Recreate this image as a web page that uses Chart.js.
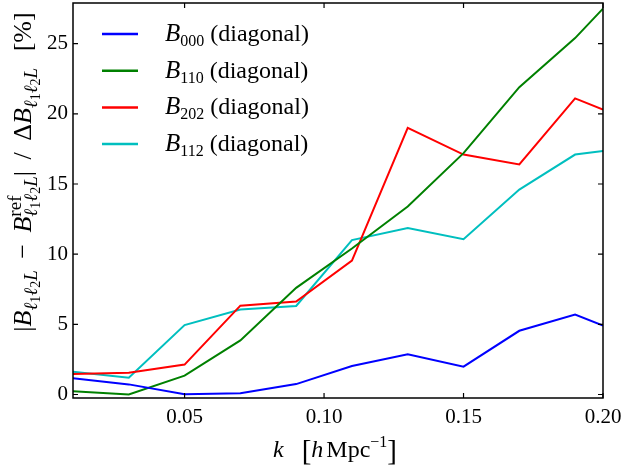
<!DOCTYPE html>
<html>
<head>
<meta charset="utf-8">
<script src="https://cdn.jsdelivr.net/npm/chart.js@4/dist/chart.umd.min.js"></script>
<style>
  html, body { margin: 0; padding: 0; background: #fff; }
  canvas { display: block; }
</style>
</head>
<body>
<canvas id="chart" width="624" height="470"></canvas>
<script>
// k values and the four series
const kValues = [0.01, 0.03, 0.05, 0.07, 0.09, 0.11, 0.13, 0.15, 0.17, 0.19, 0.20];
const b000 = [1.15, 0.72, 0.02, 0.09, 0.74, 2.03, 2.87, 1.98, 4.54, 5.69, 4.92];
const b110 = [0.24, 0.0, 1.34, 3.85, 7.6, 10.4, 13.4, 17.2, 21.9, 25.4, 27.5];
const b202 = [1.46, 1.55, 2.13, 6.33, 6.62, 9.54, 19.0, 17.1, 16.4, 21.1, 20.3];
const b112 = [1.62, 1.19, 4.95, 6.05, 6.31, 11.0, 11.86, 11.07, 14.6, 17.1, 17.36];

const seriesSubs = ['000', '110', '202', '112'];
const seriesColors = ['#0000ff', '#008000', '#ff0000', '#00bfbf'];
const xTicks = [0.05, 0.10, 0.15, 0.20];
const yTicks = [0, 5, 10, 15, 20, 25];

const FONT = '"Liberation Serif", "Times New Roman", serif';

function fontOf(seg) {
  return (seg.it ? 'italic ' : '') + seg.s + 'px ' + FONT;
}

// lay out text pieces with sub/superscripts, returns positions + width
function layoutRich(ctx, segs, gapExtra) {
  let cur = 0, markX = 0, supEnd = 0;
  const out = [];
  segs.forEach(seg => {
    ctx.font = fontOf(seg);
    const w = ctx.measureText(seg.t).width;
    if (seg.mark) markX = cur;
    if (seg.back) cur = markX;
    if (seg.gap) cur += (gapExtra || 0) / 2;
    out.push({ seg, x: cur });
    cur += w;
    if (seg.gap) cur += (gapExtra || 0) / 2;
    if (seg.mark) supEnd = cur;
    if (seg.end) cur = Math.max(cur, supEnd);
  });
  return { items: out, width: cur };
}

function drawRich(ctx, segs, x0, baseY, gapExtra) {
  const lay = layoutRich(ctx, segs, gapExtra);
  ctx.textAlign = 'left';
  ctx.textBaseline = 'alphabetic';
  ctx.fillStyle = '#000';
  lay.items.forEach(it => {
    ctx.font = fontOf(it.seg);
    ctx.fillText(it.seg.t, x0 + it.x, baseY + (it.seg.dy || 0));
  });
  return lay.width;
}

// y title pieces
function yTitleSegs(b) {
  const s1 = Math.round(b * 0.74), s2 = Math.round(b * 0.54);
  const d1 = Math.round(b * 0.22), d2 = Math.round(b * 0.36);
  const sub = (first, last) => {
    const g = [
      { t: 'ℓ', it: true, s: s1, dy: d1 },
      { t: '1', s: s2, dy: d2 },
      { t: 'ℓ', it: true, s: s1, dy: d1 },
      { t: '2', s: s2, dy: d2 },
      { t: 'L', it: true, s: s1, dy: d1 }
    ];
    Object.assign(g[0], first || {});
    Object.assign(g[4], last || {});
    return g;
  };
  return [].concat(
    [{ t: '|', s: b }, { t: 'B', it: true, s: b }],
    sub(),
    [{ t: ' − ', s: b, gap: true }, { t: 'B', it: true, s: b },
     { t: 'ref', s: s1, dy: -Math.round(b * 0.4), mark: true }],
    sub({ back: true }, { end: true }),
    [{ t: '|', s: b }, { t: ' / ', s: b, gap: true }, { t: 'Δ', s: b }, { t: 'B', it: true, s: b }],
    sub(),
    [{ t: ' ', s: b, gap: true }, { t: '[%]', s: b }]
  );
}
const yTitle = yTitleSegs(26);

const xTitle = [
  { t: 'k', it: true, s: 24 },
  { t: '   ', s: 24 },
  { t: '[', s: 29, dy: 3 },
  { t: 'h', it: true, s: 24 },
  { t: ' ', s: 12 },
  { t: 'Mpc', s: 24 },
  { t: '−1', s: 16, dy: -10 },
  { t: ']', s: 29, dy: 3 }
];

const decorations = {
  id: 'decorations',
  afterDatasetsDraw(chart) {
    const { ctx, chartArea: a, scales } = chart;
    ctx.save();
    // frame
    ctx.strokeStyle = '#000';
    ctx.lineWidth = 1.5;
    ctx.strokeRect(a.left, a.top, a.right - a.left, a.bottom - a.top);
    // inward ticks on all four sides
    ctx.lineWidth = 1.2;
    ctx.beginPath();
    xTicks.forEach(v => {
      const px = scales.x.getPixelForValue(v);
      ctx.moveTo(px, a.bottom); ctx.lineTo(px, a.bottom - 5);
      ctx.moveTo(px, a.top); ctx.lineTo(px, a.top + 5);
    });
    yTicks.forEach(v => {
      const py = scales.y.getPixelForValue(v);
      ctx.moveTo(a.left, py); ctx.lineTo(a.left + 5, py);
      ctx.moveTo(a.right, py); ctx.lineTo(a.right - 5, py);
    });
    ctx.stroke();

    // legend
    seriesSubs.forEach((s, i) => {
      const y = 34 + i * 36.7;
      ctx.strokeStyle = seriesColors[i];
      ctx.lineWidth = 2.5;
      ctx.beginPath();
      ctx.moveTo(102, y); ctx.lineTo(138, y);
      ctx.stroke();
      drawRich(ctx, [
        { t: 'B', it: true, s: 25 },
        { t: s, s: 16, dy: 5 },
        { t: ' (diagonal)', s: 24 }
      ], 165, y + 7);
    });

    // x title
    const xw = layoutRich(ctx, xTitle).width;
    drawRich(ctx, xTitle, 335 - xw / 2, 457);

    // y title, gaps widened a little towards the reference length
    const w0 = layoutRich(ctx, yTitle).width;
    const extra = Math.min(10, Math.max(0, (338 - w0) / 3));
    const yw = layoutRich(ctx, yTitle, extra).width;
    ctx.translate(31, 172);
    ctx.rotate(-Math.PI / 2);
    drawRich(ctx, yTitle, -yw / 2, 0, extra);
    ctx.restore();
  }
};

const datasets = [b000, b110, b202, b112].map((arr, i) => ({
  label: 'B' + seriesSubs[i] + ' (diagonal)',
  data: kValues.map((k, j) => ({ x: k, y: arr[j] })),
  borderColor: seriesColors[i],
  backgroundColor: seriesColors[i],
  borderWidth: 2,
  pointRadius: 0,
  tension: 0,
  fill: false
}));

const tickFont = { family: FONT, size: 21 };

new Chart(document.getElementById('chart').getContext('2d'), {
  type: 'line',
  data: { datasets },
  options: {
    responsive: false,
    animation: false,
    devicePixelRatio: 1,
    layout: { padding: { left: 0, right: 21, top: 3, bottom: 0 } },
    plugins: { legend: { display: false }, tooltip: { enabled: false } },
    scales: {
      x: {
        type: 'linear',
        min: 0.01,
        max: 0.20,
        afterBuildTicks: s => { s.ticks = xTicks.map(v => ({ value: v })); },
        afterFit: s => {
          s.height = 72;
          s.paddingLeft = 0; s.paddingRight = 0;
        },
        grid: { display: false, drawTicks: false },
        border: { display: false },
        ticks: {
          callback: v => v.toFixed(2),
          font: tickFont,
          color: '#000',
          padding: 7,
          maxRotation: 0,
          autoSkip: false
        }
      },
      y: {
        min: -0.25,
        max: 27.9,
        afterBuildTicks: s => { s.ticks = yTicks.map(v => ({ value: v })); },
        afterFit: s => {
          s.width = 73;
          s.paddingTop = 0; s.paddingBottom = 0;
        },
        grid: { display: false, drawTicks: false },
        border: { display: false },
        ticks: {
          callback: v => String(v),
          font: tickFont,
          color: '#000',
          padding: 5
        }
      }
    }
  },
  plugins: [decorations]
});
</script>
</body>
</html>
